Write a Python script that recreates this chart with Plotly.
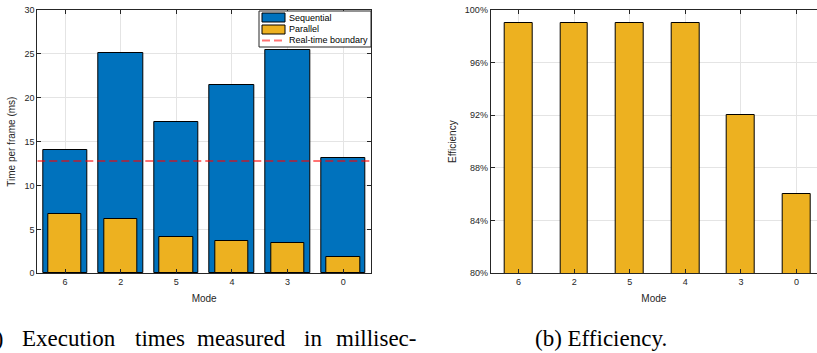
import plotly.graph_objects as go

modes = ["6", "2", "5", "4", "3", "0"]
sequential_ms = [14.0, 25.05, 17.2, 21.5, 25.4, 13.1]
parallel_ms = [6.8, 6.2, 4.1, 3.65, 3.45, 1.9]
realtime_ms = 12.8
efficiency = [0.99, 0.99, 0.99, 0.99, 0.92, 0.86]
legend_labels = ["Sequential", "Parallel", "Real-time boundary"]
caption_a = ["(a)", "Execution", "times", "measured", "in", "millisec-"]
caption_b = "(b) Efficiency."

W, H = 817, 353
FONT = "Liberation Sans, Arial, sans-serif"
CAP = "Liberation Serif, serif"
TXT = "#262626"
BLUE = "#0072BD"
GOLD = "#EDB120"
GRID = "#e4e4e4"
RED = "rgba(255,0,0,0.55)"

xpos = list(range(len(modes)))
xmin, xmax = -0.5, len(modes) - 0.5

def px(x):
    return x / W
def py(y):
    return 1 - y / H

fig = go.Figure()
fig.add_trace(go.Bar(x=xpos, y=sequential_ms, width=0.8, name=legend_labels[0], showlegend=False,
                     marker=dict(color=BLUE, line=dict(color="black", width=1)),
                     xaxis="x", yaxis="y"))
fig.add_trace(go.Bar(x=xpos, y=parallel_ms, width=0.6, name=legend_labels[1], showlegend=False,
                     marker=dict(color=GOLD, line=dict(color="black", width=1)),
                     xaxis="x", yaxis="y"))
fig.add_trace(go.Scatter(x=[xmin, xmax], y=[realtime_ms, realtime_ms], mode="lines",
                         name=legend_labels[2], showlegend=False,
                         line=dict(color=RED, width=2, dash="8px,4px"),
                         xaxis="x", yaxis="y"))
fig.add_trace(go.Bar(x=xpos, y=efficiency, width=0.5, showlegend=False,
                     marker=dict(color=GOLD, line=dict(color="black", width=1)),
                     xaxis="x2", yaxis="y2"))

left_l, left_r = 37.3, 371
right_l = 490.7
cat_px = (left_r - left_l) / 6.0
right_max = xmin + (W - right_l) / cat_px
ytop, ybot = 10, 273.3

axis_common = dict(showline=True, linecolor=TXT, linewidth=1, ticks="inside", ticklen=4,
                   tickcolor=TXT, tickwidth=1, showgrid=True, gridcolor=GRID, gridwidth=1,
                   zeroline=False, automargin=False,
                   tickfont=dict(family=FONT, size=9, color=TXT))
tfont = dict(size=10, family=FONT, color=TXT)

fig.update_layout(
    template="none",
    width=W, height=H, margin=dict(l=0, r=0, t=0, b=0),
    paper_bgcolor="white", plot_bgcolor="white",
    barmode="overlay", bargap=0,
    font=dict(family=FONT, color=TXT),
    showlegend=False,
    xaxis=dict(domain=[px(left_l), px(left_r)], range=[xmin, xmax], tickvals=xpos, ticktext=modes,
               mirror="ticks", anchor="y",
               title=dict(text="Mode", font=tfont, standoff=8), **axis_common),
    yaxis=dict(domain=[py(ybot), py(ytop)], range=[0, 30], dtick=5, mirror="ticks", anchor="x",
               title=dict(text="Time per frame (ms)", font=tfont, standoff=6), **axis_common),
    xaxis2=dict(domain=[px(right_l), 1], range=[xmin, right_max], tickvals=xpos, ticktext=modes,
                mirror="ticks", anchor="y2",
                title=dict(text="Mode", font=tfont, standoff=8), **axis_common),
    yaxis2=dict(domain=[py(ybot), py(ytop)], range=[0.8, 1.0], dtick=0.04, tickformat=".0%",
                anchor="x2",
                title=dict(text="Efficiency", font=tfont, standoff=6), **axis_common),
)

# custom legend (box, patches, labels) in paper pixels
shapes = []
shapes.append(dict(type="rect", xref="paper", yref="paper", x0=px(259), x1=px(371), y0=py(47), y1=py(11),
                   fillcolor="white", line=dict(color=TXT, width=1), layer="above"))
patch_rows = [(13, 22, BLUE), (25, 34, GOLD)]
for (y0, y1, col) in patch_rows:
    shapes.append(dict(type="rect", xref="paper", yref="paper", x0=px(262), x1=px(285), y0=py(y1), y1=py(y0),
                       fillcolor=col, line=dict(color="black", width=1), layer="above"))
shapes.append(dict(type="line", xref="paper", yref="paper", x0=px(262), x1=px(285), y0=py(40.5), y1=py(40.5),
                   line=dict(color=RED, width=2, dash="8px,4px"), layer="above"))
fig.update_layout(shapes=shapes)
for lab, yc in zip(legend_labels, [17.5, 29.5, 40.5]):
    fig.add_annotation(text=lab, x=px(287), y=py(yc), xref="paper", yref="paper",
                       xanchor="left", yanchor="middle", showarrow=False,
                       font=dict(family=FONT, size=9, color="black"))

# captions
cap_font = dict(family=CAP, size=23, color="black")
cap_y = py(338)
word_x = [6, 20, 133, 195, 302, 334]
for i, (w, xx) in enumerate(zip(caption_a, word_x)):
    fig.add_annotation(text=w, x=px(xx), y=cap_y, xref="paper", yref="paper",
                       xanchor="right" if i == 0 else "left", yanchor="middle",
                       showarrow=False, font=cap_font)
fig.add_annotation(text=caption_b, x=px(532.5), y=cap_y, xref="paper", yref="paper",
                   xanchor="left", yanchor="middle", showarrow=False, font=cap_font)

fig.write_html("out.html")
